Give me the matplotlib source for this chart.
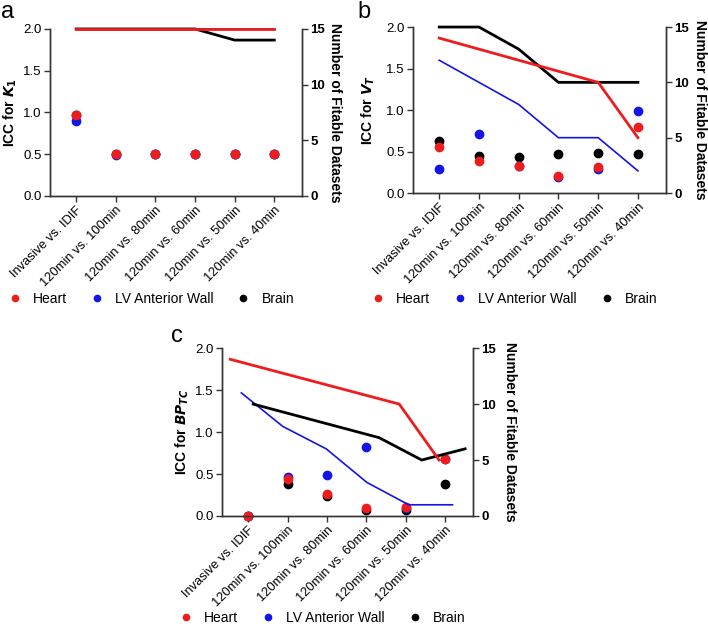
import matplotlib.pyplot as plt
from matplotlib.lines import Line2D

plt.rcParams['font.family'] = ['Liberation Sans', 'DejaVu Sans']

labels = ["Invasive vs. IDIF", "120min vs. 100min", "120min vs. 80min",
          "120min vs. 60min", "120min vs. 50min", "120min vs. 40min"]
pos = [0, 1, 2, 3, 4, 5]

RED = "#ee1c1c"
BLUE = "#1414e6"
BLACK = "#000000"

# panel a - ICC for K1
a_heart = [0.97, 0.50, 0.50, 0.50, 0.50, 0.50]
a_lv = [0.90, 0.49, 0.50, 0.50, 0.50, 0.50]
a_brain = [0.97, 0.50, 0.50, 0.50, 0.50, 0.50]
a_n_heart = [15, 15, 15, 15, 15, 15]
a_n_lv = [15, 15, 15, 15, 15, 15]
a_n_brain = [15, 15, 15, 15, 14, 14]

# panel b - ICC for VT
b_heart = [0.56, 0.39, 0.33, 0.21, 0.31, 0.80]
b_lv = [0.29, 0.71, 0.32, 0.19, 0.29, 0.99]
b_brain = [0.63, 0.44, 0.43, 0.47, 0.48, 0.47]
b_n_heart = [14, 13, 12, 11, 10, 5]
b_n_lv = [12, 10, 8, 5, 5, 2]
b_n_brain = [15, 15, 13, 10, 10, 10]

# panel c - ICC for BPTC (lines are offset in the original figure)
c_heart = [0.0, 0.44, 0.26, 0.09, 0.11, 0.68]
c_lv = [0.0, 0.47, 0.49, 0.82, 0.10, 0.68]
c_brain = [0.0, 0.38, 0.24, 0.07, 0.07, 0.38]
c_x_n_heart = [-0.45, 3.83, 4.84]
c_n_heart = [14, 10, 5]
c_x_n_lv = [-0.17, 0.88, 1.98, 3.01, 4.07, 5.18]
c_n_lv = [11, 8, 6, 3, 1, 1]
c_x_n_brain = [0.13, 3.32, 4.40, 5.50]
c_n_brain = [10, 7, 5, 6]

fig = plt.figure(figsize=(7.08, 6.24), dpi=100)


def panel(rect, letter, ylab, pts, lines, lab_x, rlab_x, let_xy, leg_y):
    ax = fig.add_axes(rect)
    ax2 = ax.twinx()
    for vals, c in pts:
        ax.plot(pos, vals, "o", color=c, markersize=6, clip_on=False, zorder=3)
    for xs, vals, c, lw in lines:
        ax2.plot(xs, vals, "-", color=c, linewidth=lw, clip_on=False)
    ax.set_xlim(-0.66, 5.7)
    ax.set_ylim(0, 2.0)
    ax2.set_ylim(0, 15)
    ax.set_yticks([0, 0.5, 1.0, 1.5, 2.0])
    ax.set_yticklabels(["0.0", "0.5", "1.0", "1.5", "2.0"])
    ax2.set_yticks([0, 5, 10, 15])
    ax2.set_yticklabels(["0", "5", "10", "15"], fontweight="bold")
    ax.set_xticks(pos)
    ax.set_xticklabels(labels, rotation=45, ha="right", rotation_mode="anchor")
    for a in (ax, ax2):
        a.spines["top"].set_visible(False)
        for s in a.spines.values():
            s.set_color("#333333")
            s.set_linewidth(1.0)
        a.tick_params(length=4, width=1.0, color="#333333", labelsize=9.5, pad=2)
    ax.tick_params(axis="x", labelsize=9.3)
    ax.set_ylabel(ylab, fontsize=10, fontweight="bold")
    ax2.set_ylabel("Number of Fitable Datasets", fontsize=10, fontweight="bold",
                   rotation=270, va="bottom")
    ax.yaxis.set_label_coords(lab_x, 0.5)
    ax2.yaxis.set_label_coords(rlab_x, 0.5)
    ax.text(let_xy[0], let_xy[1], letter, transform=ax.transAxes,
            fontsize=17, ha="center", va="baseline")
    handles = [Line2D([], [], marker="o", ls="", color=RED, markersize=4.5),
               Line2D([], [], marker="o", ls="", color=BLUE, markersize=4.5),
               Line2D([], [], marker="o", ls="", color=BLACK, markersize=4.5)]
    ax.legend(handles, ["Heart", "LV Anterior Wall", "Brain"], ncol=3,
              loc="center", bbox_to_anchor=(0.40, leg_y), frameon=False,
              fontsize=10, handletextpad=0.8, columnspacing=1.66,
              handlelength=1.0, borderaxespad=0)
    return ax


panel([0.0706, 0.686, 0.356, 0.2676], "a", r"ICC for $\mathbfit{K}_\mathbf{1}$",
      [(a_brain, BLACK), (a_lv, BLUE), (a_heart, RED)],
      [(pos, a_n_lv, BLUE, 1.2), (pos, a_n_brain, BLACK, 2), (pos, a_n_heart, RED, 2)],
      -0.122, 1.105, (-0.17, 1.066), -0.617)

panel([0.5833, 0.6907, 0.357, 0.266], "b", r"ICC for $\mathbfit{V}_\mathbfit{T}$",
      [(b_brain, BLACK), (b_lv, BLUE), (b_heart, RED)],
      [(pos, b_n_lv, BLUE, 1.2), (pos, b_n_brain, BLACK, 2), (pos, b_n_heart, RED, 2)],
      -0.142, 1.108, (-0.194, 1.054), -0.64)

panel([0.3136, 0.1731, 0.3545, 0.269], "c", r"ICC for $\mathbfit{BP}_\mathbfit{TC}$",
      [(c_brain, BLACK), (c_lv, BLUE), (c_heart, RED)],
      [(c_x_n_lv, c_n_lv, BLUE, 1.2), (c_x_n_brain, c_n_brain, BLACK, 2),
       (c_x_n_heart, c_n_heart, RED, 2)],
      -0.122, 1.12, (-0.18, 1.036), -0.607)

fig.savefig("out.png", dpi=100)
